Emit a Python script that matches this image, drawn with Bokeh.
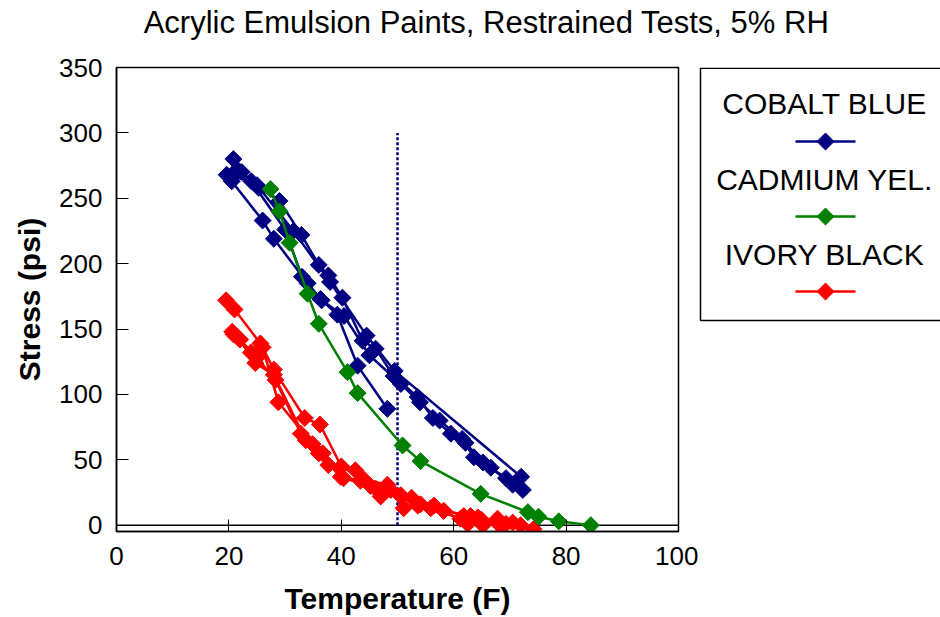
import math
from bokeh.plotting import figure
from bokeh.layouts import column, row
from bokeh.models import Range1d, FixedTicker
from bokeh.core.properties import value
from bokeh.embed import file_html
from bokeh.resources import INLINE

FONT = "Liberation Sans"

TITLE = "Acrylic Emulsion Paints, Restrained Tests, 5% RH"
X_LABEL = "Temperature (F)"
Y_LABEL = "Stress (psi)"
X_TICKS = [0, 20, 40, 60, 80, 100]
Y_TICKS = [0, 50, 100, 150, 200, 250, 300, 350]

NAMES = ["COBALT BLUE", "CADMIUM YEL.", "IVORY BLACK"]
COLORS = ["#000080", "#008000", "#ff0000"]

# Cobalt blue runs
blue_1_x = [20.5, 26.0, 28.0, 34.0, 36.3, 39.3, 42.9, 48.2]
blue_1_y = [263, 233, 219, 185, 173, 161, 122, 89]
blue_2_x = [20.8, 22.3, 25.3, 29.0, 32.9, 36.0, 37.7, 40.2, 43.8, 46.1, 49.3, 53.6, 56.3, 59.5, 62.1, 65.2, 69.3, 72.3]
blue_2_y = [280, 270, 258, 248, 222, 199, 191, 174, 141, 135, 114, 98, 82, 70, 63, 48, 36, 27]
blue_3_x = [19.6, 24.0, 30.0, 33.0, 36.5, 40.5, 45.0, 50.6, 54.0, 57.5, 61.5, 63.6, 66.6, 70.5]
blue_3_y = [268, 263, 226, 190, 172, 160, 130, 108, 94, 80, 66, 52, 44, 31]
blue_4_x = [21.5, 25.0, 31.5, 38.0, 44.5, 49.5, 72.0]
blue_4_y = [272, 260, 225, 186, 145, 118, 37]

# Cadmium yellow run
green_x = [27.4, 29.0, 30.8, 34.0, 36.0, 41.1, 42.9, 50.9, 54.1, 64.8, 73.2, 75.1, 78.7, 84.4]
green_y = [257, 240, 216, 177, 154, 117, 101, 61, 49, 24, 10, 6.5, 3, 0]

# Ivory black runs
red_1_x = [19.5, 21.0, 25.6, 28.0, 33.5, 36.2, 40.0, 44.0, 48.2, 52.5, 56.5, 61.8, 65.0, 70.5, 74.2]
red_1_y = [172, 165, 139, 119, 82, 77, 45, 35, 31, 21, 15, 7, 4, 2, -3]
red_2_x = [20.6, 22.0, 25.0, 28.3, 32.8, 36.0, 39.9, 43.4, 47.0, 50.6, 53.6, 58.2, 62.5, 67.8, 71.9]
red_2_y = [148, 142, 128, 111, 70, 55, 37, 34, 22, 23, 15, 11, 1, 5, 0]
red_3_x = [20.8, 23.9, 26.0, 28.8, 34.9, 37.7, 42.5, 46.1, 50.6, 55.9, 61.2, 64.3, 68.4]
red_3_y = [146, 132, 136, 94, 62, 46, 42, 28, 22, 13, 5, 6, -1]
red_4_x = [21.7, 24.7, 28.0, 33.7, 36.7, 40.4, 45.2, 48.8, 51.1, 54.1, 58.2, 63.0, 65.2, 69.3]
red_4_y = [143, 124, 115, 65, 55, 36, 30, 27, 13, 16, 11, 7, 0, 1]

RUNS = [
    (0, blue_1_x, blue_1_y), (0, blue_2_x, blue_2_y), (0, blue_3_x, blue_3_y), (0, blue_4_x, blue_4_y),
    (2, red_1_x, red_1_y), (2, red_2_x, red_2_y), (2, red_3_x, red_3_y), (2, red_4_x, red_4_y),
    (1, green_x, green_y),
]

REF_X = 50
REF_Y = [0, 300]


def blank(width, height, xr, yr):
    f = figure(width=width, height=height, output_backend="svg", toolbar_location=None,
               x_range=Range1d(*xr), y_range=Range1d(*yr),
               x_axis_type=None, y_axis_type=None,
               min_border_left=0, min_border_right=0, min_border_top=0, min_border_bottom=0)
    f.outline_line_color = None
    f.grid.visible = False
    f.background_fill_color = "white"
    f.border_fill_color = "white"
    return f


# ---- title strip (page-pixel coordinates) ----
tfig = blank(940, 50, (0, 940), (50, 0))
tfig.text(x=[486], y=[22], text=[TITLE], text_align="center", text_baseline="middle",
          text_font=value(FONT), text_font_size="31px", text_color="black")

# ---- main chart ----
p = figure(width=698, height=567, output_backend="svg", toolbar_location=None,
           x_range=Range1d(0, 100), y_range=Range1d(-4.8, 350),
           min_border_left=116, min_border_right=20, min_border_top=17, min_border_bottom=86)
p.outline_line_color = "black"
p.outline_line_width = 1.5
p.grid.visible = False
p.background_fill_color = "white"
p.border_fill_color = "white"

for ax in (p.xaxis[0], p.yaxis[0]):
    ax.major_tick_in = 12
    ax.major_tick_out = 0
    ax.minor_tick_line_color = None
    ax.major_tick_line_color = "black"
    ax.major_tick_line_width = 1
    ax.axis_line_color = "black"
    ax.axis_line_width = 1.5
    ax.major_label_text_font = FONT
    ax.major_label_text_font_size = "26px"
    ax.major_label_text_color = "black"
    ax.axis_label_text_font = FONT
    ax.axis_label_text_font_size = "30px"
    ax.axis_label_text_font_style = "bold"
    ax.axis_label_text_color = "black"

p.xaxis.ticker = FixedTicker(ticks=X_TICKS)
p.yaxis.ticker = FixedTicker(ticks=Y_TICKS)
p.xaxis.major_label_standoff = 15
p.yaxis.major_label_standoff = 14
p.xaxis.axis_label = X_LABEL
p.yaxis.axis_label = Y_LABEL
p.xaxis.axis_label_standoff = 14
p.yaxis.axis_label_standoff = 10

# zero line
p.line([0, 100], [0, 0], line_color="black", line_width=1.5)

# reference line
p.line([REF_X, REF_X], REF_Y, line_color=COLORS[0], line_width=2.5, line_dash="3 2")

for ci, xs, ys in RUNS:
    c = COLORS[ci]
    p.line(xs, ys, line_color=c, line_width=2.5)
    p.scatter(xs, ys, marker="square", angle=math.pi / 4, size=12,
              fill_color=c, line_color=c)

# ---- legend panel (page-pixel coordinates; its frame is aligned to 67..531) ----
leg = blank(242, 567, (698, 940), (531, 67))
leg.quad(left=[700], right=[1000], top=[67.8], bottom=[320], fill_color=None,
         line_color="black", line_width=1.5)
LEG_TEXT_Y = [103, 178.5, 254]
LEG_SAMPLE_Y = [141, 216, 291]
for i, name in enumerate(NAMES):
    leg.text(x=[824], y=[LEG_TEXT_Y[i]], text=[name], text_align="center",
             text_baseline="middle", text_font=value(FONT), text_font_size="30px",
             text_color="black")
    leg.line([795, 855], [LEG_SAMPLE_Y[i]] * 2, line_color=COLORS[i], line_width=2.5)
    leg.scatter([825], [LEG_SAMPLE_Y[i]], marker="square", angle=math.pi / 4, size=12,
                fill_color=COLORS[i], line_color=COLORS[i])

layout = column(tfig, row(p, leg))
open("out.html", "w").write(file_html(layout, INLINE))
